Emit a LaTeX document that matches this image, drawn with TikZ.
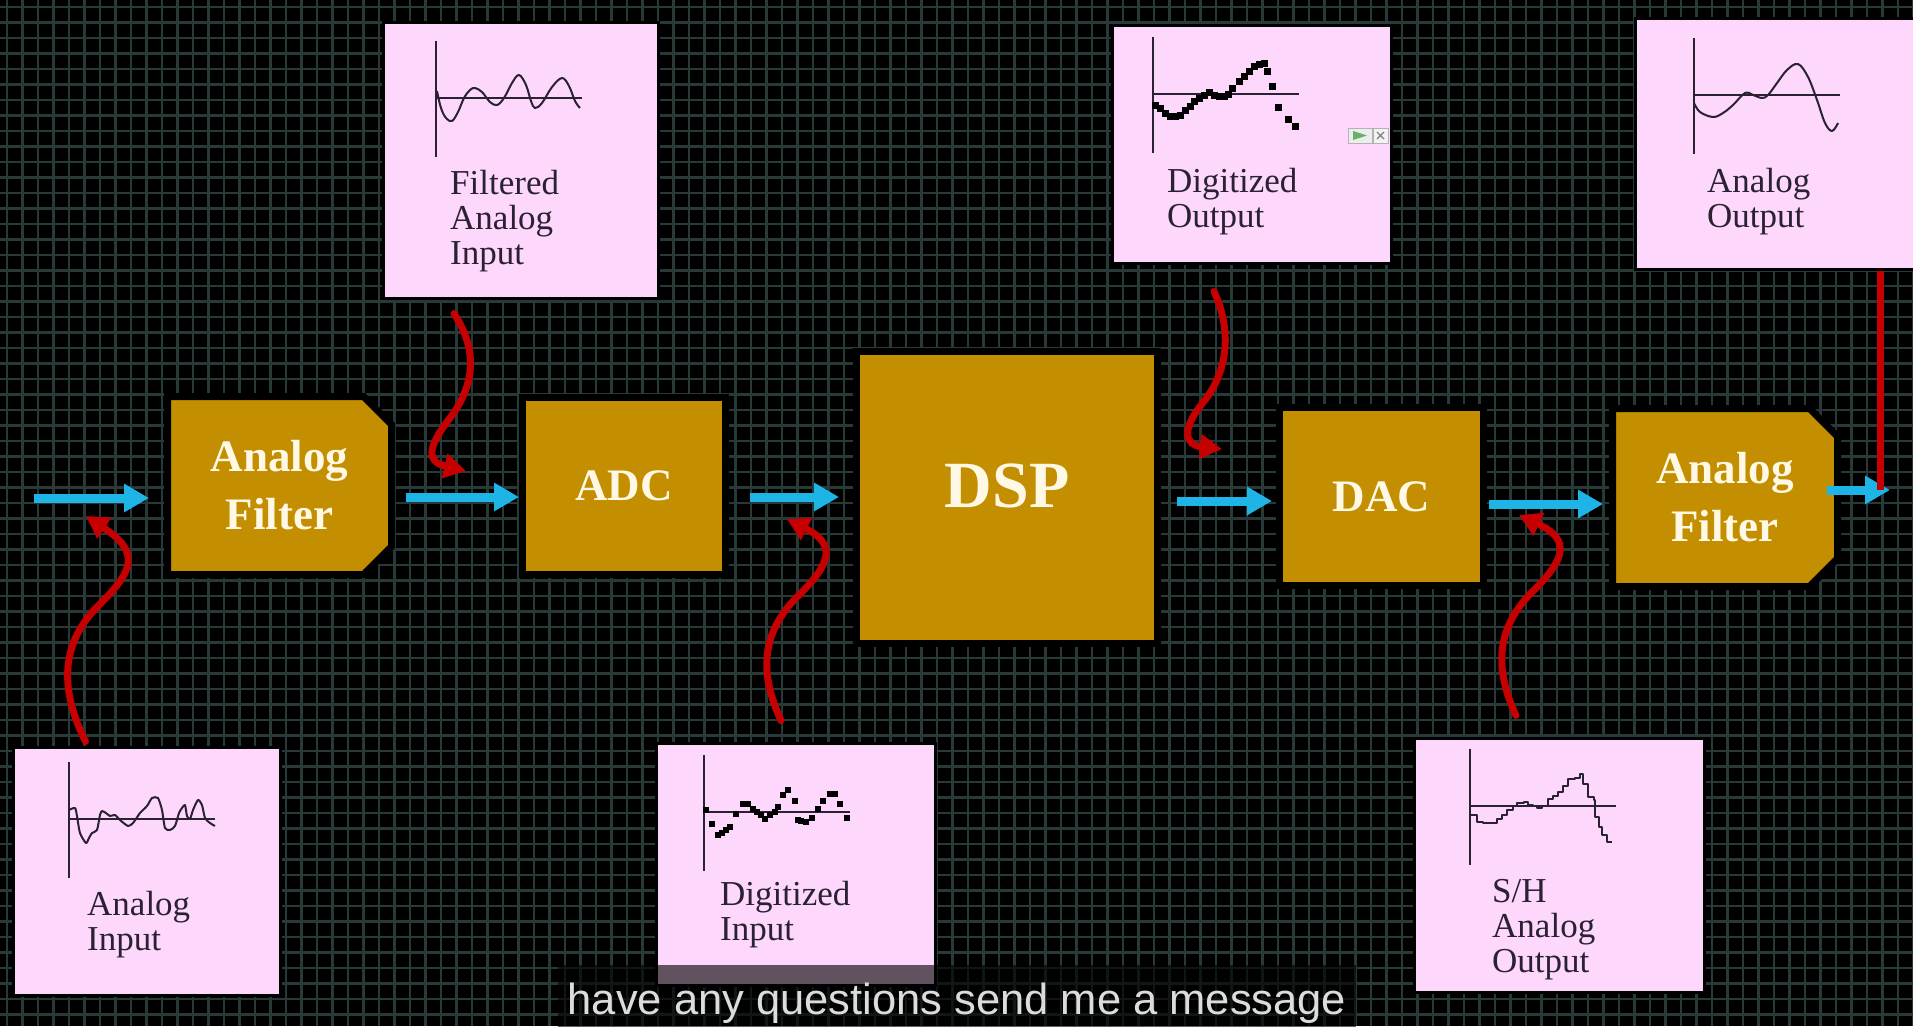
\documentclass[tikz,border=0pt]{standalone}
\usepackage{fontspec}
\setmainfont{Liberation Serif}
\newfontfamily\capfont{Liberation Sans}
\usetikzlibrary{positioning,arrows.meta,shapes.misc}

\definecolor{gold}{RGB}{195,143,0}
\definecolor{pinkbg}{RGB}{254,216,252}
\definecolor{flowblue}{RGB}{30,180,230}
\definecolor{sigred}{RGB}{198,0,0}
\definecolor{gridc}{RGB}{40,58,56}
\definecolor{inkc}{RGB}{42,34,50}
\definecolor{cream}{RGB}{255,248,228}
\definecolor{capgrey}{RGB}{220,220,220}

\newcommand{\sigaxes}{\draw[axis] (0,-57) -- (0,59); \draw[axis] (0,0) -- (146,0);}

\tikzset{
  block/.style={draw=black,line width=7pt,fill=gold,text=cream,inner sep=0pt,align=center,
    font=\fontsize{45}{58}\selectfont\bfseries},
  filterblock/.style={block,chamfered rectangle,chamfered rectangle corners={north east,south east},
    chamfered rectangle xsep=14pt,chamfered rectangle ysep=14pt},
  sigbox/.style={draw=black,line width=3pt,fill=pinkbg,inner sep=0pt},
  lbl/.style={inner sep=0pt,align=left,text=inkc,font=\fontsize{35}{35}\selectfont},
  flow/.style={draw=flowblue,line width=9pt,-{Triangle[length=25pt,width=27pt]}},
  sig/.style={draw=sigred,line width=7pt,line cap=round,-{Triangle[length=22pt,width=24pt]}},
  sigline/.style={draw=sigred,line width=7pt},
  gridline/.style={draw=gridc,line width=2.4pt},
  axis/.style={draw=inkc,line width=1.8pt},
  wave/.style={draw=inkc,line width=2pt,line join=round},
}

\begin{document}
\begin{tikzpicture}[x=1pt,y=-1pt]
  \useasboundingbox (0,0) rectangle (1913,1026);
  \fill[black] (0,0) rectangle (1913,1026);
  \foreach \k in {0,...,123} \draw[gridline] (7+15.5*\k,0) -- (7+15.5*\k,1026);
  \foreach \k in {0,...,65} \draw[gridline] (0,7+15.5*\k) -- (1913,7+15.5*\k);

  \node[sigbox,minimum width=275pt,minimum height=276pt] (fai) at (520.5,160) {};
  \node[sigbox,minimum width=279pt,minimum height=238pt] (dout) at (1251.5,144) {};
  \node[sigbox,minimum width=282pt,minimum height=251pt] (aout) at (1776,143.5) {};
  \node[sigbox,minimum width=267pt,minimum height=248pt] (ain) at (146.5,871) {};
  \node[sigbox,minimum width=279pt,minimum height=242pt] (din) at (795.5,864) {};
  \node[sigbox,minimum width=290pt,minimum height=254pt] (shout) at (1559,865) {};

  \coordinate (ofai) at (436,98);
  \coordinate (odout) at (1153,94);
  \coordinate (oaout) at (1694,95);
  \coordinate (oain) at (69,819);
  \coordinate (odin) at (704,812);
  \coordinate (osh) at (1470,806);

  \begin{scope}[shift={(ofai)}]
    \sigaxes
    \draw[wave] plot[smooth,tension=0.6] coordinates {(1,-7) (5,10) (10,20) (16,23) (22,14) (28,0) (34,-8)
      (39,-10) (46,-6) (54,4) (61,7) (68,0) (76,-15) (83,-23) (90,-13) (95,3) (99,10) (106,5) (116,-11)
      (126,-20) (133,-12) (139,3) (144,10)};
  \end{scope}
  \begin{scope}[shift={(odout)}]
    \sigaxes
    \foreach \px/\py in {2/11,7/14,12/19,17/22,22/22,27/21,32/16,37/12,41/7,46/4,51/1,56/-2,61/1,66/2,
      71/2,75/0,79/-6,86/-13,91/-18,96/-23,101/-28,106/-30,111/-31,114/-23,119/-8,125/13,135/25,142/32}
      \fill[black] (\px-3.5,\py-3.5) rectangle ++(7,7);
  \end{scope}
  \begin{scope}[shift={(oaout)}]
    \sigaxes
    \draw[wave] plot[smooth,tension=0.6] coordinates {(0,8) (6,17) (19,22) (29,18) (39,10) (51,-2) (59,0)
      (68,3) (74,0) (83,-12) (93,-25) (104,-31) (114,-18) (123,5) (131,28) (138,36) (144,28)};
  \end{scope}
  \begin{scope}[shift={(oain)}]
    \sigaxes
    \draw[wave] plot[smooth,tension=0.4] coordinates {(0,-9) (6,-11) (8,-3) (11,14) (17,24) (20,19) (23,14)
      (28,11) (31,-4) (33,-8) (37,-6) (41,-3) (46,-4) (51,1) (59,7) (64,4) (71,-6) (78,-13) (83,-21)
      (89,-21) (93,-9) (96,9) (101,11) (106,7) (110,-6) (113,-11) (116,-14) (118,-3) (121,0) (124,-9)
      (129,-19) (133,-14) (136,-1) (141,4) (146,7)};
  \end{scope}
  \begin{scope}[shift={(odin)}]
    \sigaxes
    \foreach \px/\py in {2/-2,8/12,14/23,18/21,22/18,26/15,32/2,39/-8,44/-8,49/-3,53/0,57/3,61/7,66/3,
      71/0,74/-5,79/-17,84/-22,91/-11,94/8,97/9,102/10,108/6,114/-3,119/-11,126/-18,131/-18,136/-8,143/6}
      \fill[black] (\px-3,\py-3) rectangle ++(6,6);
  \end{scope}
  \begin{scope}[shift={(osh)}]
    \sigaxes
    \draw[wave] (0,9) -| (7,16) -| (13,17) -| (27,13) -| (32,9) -| (37,4) -| (43,0) -| (47,-3) -| (54,-4)
      -| (58,-1) -| (63,0) -| (67,2) -| (72,0) -| (78,-7) -| (83,-10) -| (88,-14) -| (93,-20) -| (98,-27)
      -| (105,-28) -| (110,-32) -| (113,-22) -| (118,-9) -| (124,-6) -| (125,11) -| (129,21) -| (132,29)
      -| (137,36) -- (142,36);
  \end{scope}

  \node[lbl,below right=72pt and 14pt of ofai] (faitxt) {Filtered\\Analog\\Input};
  \node[lbl,below right=74pt and 14pt of odout] (douttxt) {Digitized\\Output};
  \node[lbl,below right=73pt and 13pt of oaout] (aouttxt) {Analog\\Output};
  \node[lbl,below right=72pt and 18pt of oain] (aintxt) {Analog\\Input};
  \node[lbl,below right=69pt and 16pt of odin] (dintxt) {Digitized\\Input};
  \node[lbl,below right=73pt and 22pt of osh] (shtxt) {S/H\\Analog\\Output};

  \draw[fill=gray!15,draw=gray!60,line width=1pt] (1348,128) rectangle (1372,143);
  \fill[green!50!black!60] (1353,131) -- (1367,135.5) -- (1353,140) -- cycle;
  \draw[fill=gray!10,draw=gray!60,line width=1pt] (1373,128) rectangle (1388,143);
  \draw[gray,line width=1.2pt] (1377,132) -- (1384,139) (1377,139) -- (1384,132);

  \node[filterblock,minimum width=224pt,minimum height=178pt] (af1) at (279.5,485.5) {Analog\\Filter};
  \node[block,minimum width=203pt,minimum height=177pt] (adc) at (624,486) {ADC};
  \node[block,minimum width=301pt,minimum height=292pt,text depth=24pt,
    font=\fontsize{66}{70}\selectfont\bfseries] (dsp) at (1007,497.5) {DSP};
  \node[block,minimum width=204pt,minimum height=178pt] (dac) at (1381.5,496.5) {DAC};
  \node[filterblock,minimum width=225pt,minimum height=178pt] (af2) at (1725,497.5) {Analog\\Filter};

  \coordinate (in) at (34,498);
  \coordinate (out) at (1890,490);
  \draw[flow,shorten >=15pt] (in) -- (in -| af1.west);
  \draw[flow,shorten <=11pt] ([shift={(0,11.5)}]af1.east) -- ([shift={(0,11)}]adc.west);
  \draw[flow,shorten <=21pt,shorten >=14pt] ([shift={(0,11)}]adc.east) -- ([shift={(0,-0.5)}]dsp.west);
  \draw[flow,shorten <=16pt,shorten >=4pt] ([shift={(0,3.5)}]dsp.east) -- ([shift={(0,4.5)}]dac.west);
  \draw[flow,shorten <=2pt,shorten >=6pt] ([shift={(0,7.5)}]dac.east) -- ([shift={(0,6.5)}]af2.west);
  \draw[flow] ([shift={(-14,-7.5)}]af2.east) -- (out);

  \coordinate (t1) at (86,516);
  \coordinate (t2) at (466,471);
  \coordinate (t3) at (787,519);
  \coordinate (t4) at (1222,449);
  \coordinate (t5) at (1519,515);
  \draw[sig] ([shift={(-61,-4)}]ain.north) .. controls (60,690) and (60,645) .. (97,607)
    .. controls (135,570) and (140,552) .. (t1);
  \draw[sig] ([shift={(-66.5,14)}]fai.south) .. controls (478,350) and (475,385) .. (450,418)
    .. controls (425,450) and (428,462) .. (t2);
  \draw[sig] ([shift={(-14.5,-21)}]din.north) .. controls (760,675) and (760,635) .. (796,598)
    .. controls (830,565) and (838,545) .. (t3);
  \draw[sig] ([shift={(-37.5,27)}]dout.south) .. controls (1232,330) and (1228,370) .. (1205,400)
    .. controls (1180,430) and (1185,445) .. (t4);
  \draw[sig] ([shift={(-43,-21)}]shout.north) .. controls (1495,670) and (1495,630) .. (1531,593)
    .. controls (1565,560) and (1572,540) .. (t5);
  \draw[sigline] ([xshift=104pt]aout.south) -- ([xshift=104pt]aout.south |- out);

  \node[fill=black,fill opacity=.62,minimum width=798pt,minimum height=65pt,inner sep=0pt] (capbar) at (957,997.5) {};
  \node[anchor=base,text=capgrey,inner sep=0pt,font=\capfont\fontsize{43.5}{44}\selectfont] (captext) at (957,1014)
    {have any questions send me a message};
\end{tikzpicture}
\end{document}
